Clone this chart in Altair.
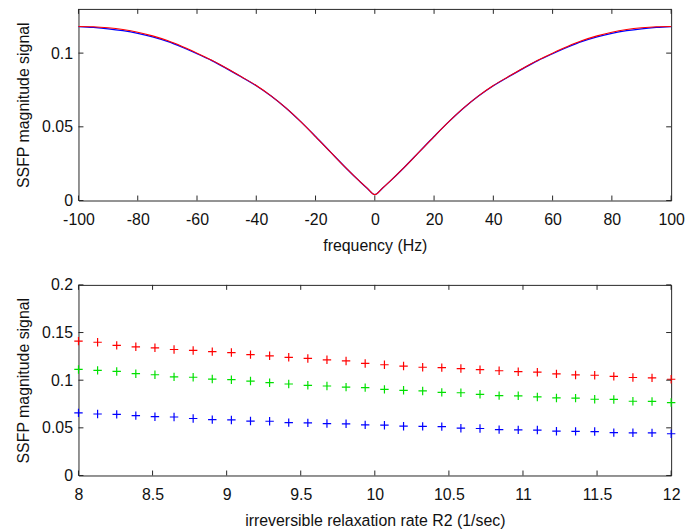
import altair as alt
import pandas as pd

# ---------------- data ----------------
freq = [-100, -95, -90, -85, -80, -75, -70, -65, -60, -55, -50, -45, -40, -35, -30, -25,
        -20, -15, -10, -5, -2.5, 0, 2.5, 5, 10, 15, 20, 25, 30, 35, 40, 45, 50, 55, 60,
        65, 70, 75, 80, 85, 90, 95, 100]
signal_red = [0.1181, 0.1179, 0.1172, 0.1160, 0.1142, 0.1117, 0.1085, 0.1045, 0.1000, 0.0952,
              0.0898, 0.0840, 0.0780, 0.0710, 0.0628, 0.0535, 0.0434, 0.0330, 0.0226, 0.0128,
              0.0082, 0.0040, 0.0082, 0.0128, 0.0226, 0.0330, 0.0434, 0.0535, 0.0628, 0.0710,
              0.0780, 0.0840, 0.0898, 0.0952, 0.1000, 0.1045, 0.1085, 0.1117, 0.1142, 0.1160,
              0.1172, 0.1179, 0.1181]
signal_blue = [0.1180, 0.1174, 0.1165, 0.1152, 0.1134, 0.1110, 0.1079, 0.1040, 0.0996, 0.0949,
               0.0895, 0.0838, 0.0779, 0.0709, 0.0628, 0.0535, 0.0434, 0.0330, 0.0226, 0.0128,
               0.0082, 0.0040, 0.0082, 0.0128, 0.0226, 0.0330, 0.0434, 0.0535, 0.0628, 0.0709,
               0.0779, 0.0838, 0.0895, 0.0949, 0.0996, 0.1040, 0.1079, 0.1110, 0.1134, 0.1152,
               0.1165, 0.1174, 0.1180]

r2 = [8.000, 8.129, 8.258, 8.387, 8.516, 8.645, 8.774, 8.903, 9.032, 9.161, 9.290, 9.419,
      9.548, 9.677, 9.806, 9.935, 10.065, 10.194, 10.323, 10.452, 10.581, 10.710, 10.839,
      10.968, 11.097, 11.226, 11.355, 11.484, 11.613, 11.742, 11.871, 12.000]
sig_r = [0.1410, 0.1398, 0.1365, 0.1350, 0.1340, 0.1322, 0.1312, 0.1300, 0.1290, 0.1268,
         0.1256, 0.1240, 0.1228, 0.1214, 0.1202, 0.1176, 0.1162, 0.1148, 0.1136, 0.1132,
         0.1122, 0.1110, 0.1099, 0.1089, 0.1084, 0.1066, 0.1055, 0.1052, 0.1040, 0.1028,
         0.1024, 0.1010]
sig_g = [0.1113, 0.1103, 0.1092, 0.1068, 0.1057, 0.1035, 0.1031, 0.1012, 0.1005, 0.0991,
         0.0974, 0.0960, 0.0946, 0.0939, 0.0927, 0.0922, 0.0904, 0.0894, 0.0887, 0.0872,
         0.0868, 0.0852, 0.0838, 0.0836, 0.0824, 0.0814, 0.0812, 0.0800, 0.0798, 0.0779,
         0.0777, 0.0765]
sig_b = [0.0657, 0.0645, 0.0641, 0.0628, 0.0617, 0.0614, 0.0598, 0.0586, 0.0583, 0.0571,
         0.0569, 0.0555, 0.0552, 0.0545, 0.0542, 0.0531, 0.0528, 0.0517, 0.0515, 0.0513,
         0.0496, 0.0493, 0.0481, 0.0479, 0.0477, 0.0465, 0.0463, 0.0461, 0.0450, 0.0448,
         0.0447, 0.0438]

top_xticks = [-100, -80, -60, -40, -20, 0, 20, 40, 60, 80, 100]
top_yticks = [0, 0.05, 0.1]
bot_xticks = [8, 8.5, 9, 9.5, 10, 10.5, 11, 11.5, 12]
bot_yticks = [0, 0.05, 0.1, 0.15, 0.2]

# ---------------- styling ----------------
FONT = "Liberation Sans"
FS = 16
INK = "#262626"
TXT = "#111111"
W, H1, H2 = 597, 193, 192
TICK = 5
LBL = "datum.value < 0 ? '-' + format(-datum.value, '~g') : format(datum.value, '~g')"

def xaxis(title, values):
    return alt.Axis(title=title, values=values, labelExpr=LBL, labelPadding=11,
                    titlePadding=10, tickSize=0, domain=False, grid=False, labelFlush=False,
                    labelFont=FONT, labelFontSize=FS, labelColor=TXT, labelOverlap=False,
                    titleFont=FONT, titleFontSize=FS, titleFontWeight="normal", titleColor=TXT)

def yaxis(title, values):
    return alt.Axis(title=title, values=values, labelExpr=LBL, labelPadding=6,
                    titlePadding=10, tickSize=0, domain=False, grid=False, labelFlush=False,
                    labelFont=FONT, labelFontSize=FS, labelColor=TXT, labelOverlap=False,
                    titleFont=FONT, titleFontSize=FS, titleFontWeight="normal", titleColor=TXT)

def tick_layers(xticks, yticks, xscale, yscale, xax, yax, w, h):
    xt = pd.DataFrame({"t": xticks})
    yt = pd.DataFrame({"t": yticks})
    rule = dict(color=INK, strokeWidth=1)
    xs = alt.X("t:Q", scale=xscale, axis=xax)
    ys = alt.Y("t:Q", scale=yscale, axis=yax)
    return [
        alt.Chart(xt).mark_rule(**rule).encode(x=xs, y=alt.value(h), y2=alt.value(h - TICK)),
        alt.Chart(xt).mark_rule(**rule).encode(x=xs, y=alt.value(0), y2=alt.value(TICK)),
        alt.Chart(yt).mark_rule(**rule).encode(y=ys, x=alt.value(0), x2=alt.value(TICK)),
        alt.Chart(yt).mark_rule(**rule).encode(y=ys, x=alt.value(w), x2=alt.value(w - TICK)),
    ]

# ---------------- top panel ----------------
xs_top = alt.Scale(domain=[-100, 100], nice=False, zero=False)
ys_top = alt.Scale(domain=[0, 0.13], nice=False)
xa_top = xaxis("frequency (Hz)", top_xticks)
ya_top = yaxis("SSFP magnitude signal", top_yticks)

df_blue = pd.DataFrame({"f": freq, "s": signal_blue})
df_red = pd.DataFrame({"f": freq, "s": signal_red})

blue_line = alt.Chart(df_blue).mark_line(color="#0000ff", strokeWidth=1.3, interpolate="monotone").encode(
    x=alt.X("f:Q", scale=xs_top, axis=xa_top),
    y=alt.Y("s:Q", scale=ys_top, axis=ya_top),
)
red_line = alt.Chart(df_red).mark_line(color="#ff0000", strokeWidth=1.1, interpolate="monotone").encode(
    x=alt.X("f:Q", scale=xs_top, axis=xa_top),
    y=alt.Y("s:Q", scale=ys_top, axis=ya_top),
)
top = alt.layer(blue_line, red_line,
                *tick_layers(top_xticks, top_yticks, xs_top, ys_top, xa_top, ya_top, W, H1)).properties(
    width=W, height=H1)

# ---------------- bottom panel ----------------
xs_bot = alt.Scale(domain=[8, 12], nice=False, zero=False)
ys_bot = alt.Scale(domain=[0, 0.2], nice=False)
xa_bot = xaxis("irreversible relaxation rate R2 (1/sec)", bot_xticks)
ya_bot = yaxis("SSFP magnitude signal", bot_yticks)

df_pts = pd.DataFrame({
    "r2": r2 * 3,
    "s": sig_r + sig_g + sig_b,
    "series": ["red"] * len(r2) + ["green"] * len(r2) + ["blue"] * len(r2),
})
PLUS = "M-1,0L1,0M0,-1L0,1"
pts = alt.Chart(df_pts).mark_point(shape=PLUS, size=72, strokeWidth=1.2, filled=False, opacity=1).encode(
    x=alt.X("r2:Q", scale=xs_bot, axis=xa_bot),
    y=alt.Y("s:Q", scale=ys_bot, axis=ya_bot),
    color=alt.Color("series:N", scale=alt.Scale(domain=["red", "green", "blue"],
                                                range=["#ff0000", "#00e000", "#0000ff"]), legend=None),
)
bottom = alt.layer(pts, *tick_layers(bot_xticks, bot_yticks, xs_bot, ys_bot, xa_bot, ya_bot, W, H2)).properties(
    width=W, height=H2)

chart = alt.vconcat(top, bottom, spacing=22).properties(
    padding={"left": 7, "top": -2, "right": 5, "bottom": 0},
    background="white",
).configure_view(stroke=INK, strokeWidth=1)

chart.save("out.html", embed_options={"renderer": "svg", "actions": False})
